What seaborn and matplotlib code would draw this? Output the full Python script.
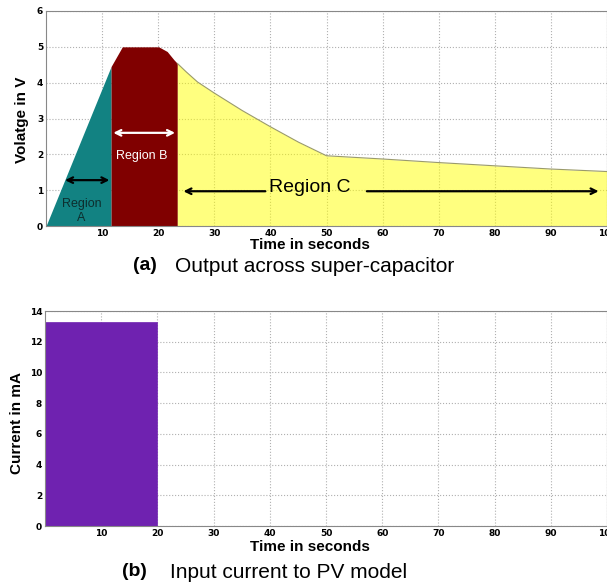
import matplotlib
matplotlib.use("Agg")
from matplotlib import pyplot as plt
import seaborn as sns
import pandas as pd

# (a) voltage across the super-capacitor
time_a = [0, 11.6]
volt_a = [0, 4.45]
time_b = [11.6, 13.6, 20.1, 21.6, 22.8, 23.4]
volt_b = [4.45, 5.0, 5.0, 4.87, 4.64, 4.54]
time_c = [23.4, 25, 27, 30, 35, 40, 45, 50, 60, 70, 80, 90, 100]
volt_c = [4.54, 4.3, 4.02, 3.71, 3.22, 2.77, 2.34, 1.96, 1.87, 1.77, 1.68, 1.59, 1.52]

# (b) input current to the PV model
pulse_start = [0]
pulse_width = [20]
pulse_current = [13.3]

x_ticks = [10, 20, 30, 40, 50, 60, 70, 80, 90, 100]
v_ticks = [0, 1, 2, 3, 4, 5, 6]
i_ticks = [0, 2, 4, 6, 8, 10, 12, 14]

sns.set_style("white")
plt.rcParams['font.family'] = ['Liberation Sans', 'DejaVu Sans']
plt.rcParams['text.color'] = 'black'
plt.rcParams['axes.labelcolor'] = 'black'

fig = plt.figure(figsize=(6.07, 5.82), dpi=100)
ax1 = fig.add_axes([46 / 607, 1 - 226 / 582, 561 / 607, 215 / 582])
ax2 = fig.add_axes([45 / 607, 1 - 526 / 582, 562 / 607, 215 / 582])

dfc = pd.DataFrame({"t": time_c, "v": volt_c})

ax1.fill_between(time_a, volt_a, color="#128282", lw=0, zorder=2)
ax1.fill_between(time_b, volt_b, color="#800000", lw=0, zorder=2)
ax1.fill_between(time_c, volt_c, color="#ffff00", alpha=0.5, lw=0, zorder=2)
sns.lineplot(data=dfc, x="t", y="v", ax=ax1, color="#9a9a6a", lw=0.8, zorder=3)

# annotations
ax1.annotate("", xy=(2.9, 1.28), xytext=(11.8, 1.28),
             arrowprops=dict(arrowstyle="<->", color="black", lw=1.6), zorder=5)
ax1.text(6.3, 0.42, "Region\nA", ha="center", va="center", fontsize=9,
         color="#0d2e2e", linespacing=1.15, zorder=5)
ax1.annotate("", xy=(11.5, 2.6), xytext=(23.5, 2.6),
             arrowprops=dict(arrowstyle="<->", color="white", lw=1.6), zorder=5)
ax1.text(17.0, 1.96, "Region B", ha="center", va="center", fontsize=9,
         color="white", zorder=5)
ax1.annotate("", xy=(24.0, 0.97), xytext=(39.6, 0.97),
             arrowprops=dict(arrowstyle="->", color="black", lw=1.6), zorder=5)
ax1.text(47.0, 1.08, "Region C", ha="center", va="center", fontsize=14,
         color="black", zorder=5)
ax1.annotate("", xy=(99.0, 0.97), xytext=(56.7, 0.97),
             arrowprops=dict(arrowstyle="->", color="black", lw=1.6), zorder=5)

ax2.bar(pulse_start, pulse_current, width=pulse_width, align="edge",
        color="#6f22b0", edgecolor="#6f22b0", lw=0.5, zorder=2)

for ax, yt in [(ax1, v_ticks), (ax2, i_ticks)]:
    ax.set_xlim(0, 100)
    ax.set_ylim(yt[0], yt[-1])
    ax.set_xticks(x_ticks)
    ax.set_yticks(yt)
    ax.grid(True, color="#b0b0b0", ls=":", lw=0.8, zorder=0)
    ax.set_axisbelow(True)
    ax.set_xlabel("")
    ax.set_ylabel("")
    ax.tick_params(axis="both", direction="in", length=3, labelsize=6.5,
                   pad=2, colors="black")
    for lab in ax.get_xticklabels() + ax.get_yticklabels():
        lab.set_fontweight("bold")
        lab.set_family("DejaVu Sans")
    for s in ax.spines.values():
        s.set_color("#888888")
        s.set_linewidth(0.8)

fig.text(22 / 607, 1 - 120 / 582, "Volatge in V", rotation=90, ha="center",
         va="center", fontsize=11, fontweight="bold")
fig.text(17 / 607, 1 - 423 / 582, "Current in mA", rotation=90, ha="center",
         va="center", fontsize=11, fontweight="bold")

fig.text(310 / 607, 1 - 245 / 582, "Time in seconds", ha="center", va="center",
         fontsize=11, fontweight="bold")
fig.text(310 / 607, 1 - 547 / 582, "Time in seconds", ha="center", va="center",
         fontsize=11, fontweight="bold")

fig.text(133 / 607, 1 - 266 / 582, "(a)", ha="left", va="center",
         fontsize=14, fontweight="bold")
fig.text(175 / 607, 1 - 267 / 582, "Output across super-capacitor", ha="left",
         va="center", fontsize=15)
fig.text(122 / 607, 1 - 572 / 582, "(b)", ha="left", va="center",
         fontsize=14, fontweight="bold")
fig.text(170 / 607, 1 - 573 / 582, "Input current to PV model", ha="left",
         va="center", fontsize=15)

fig.savefig("out.png", dpi=100)
